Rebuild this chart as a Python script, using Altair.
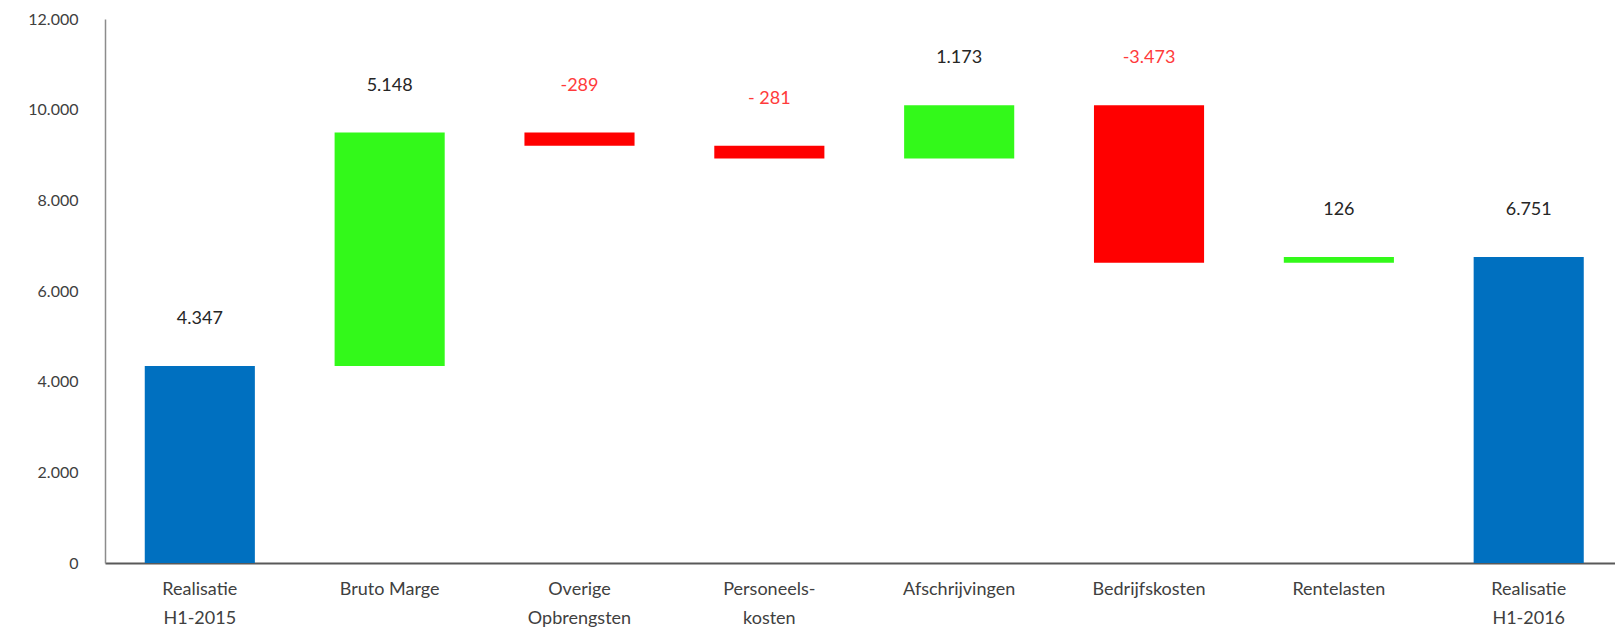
import altair as alt
import pandas as pd

categories = ["Realisatie|H1-2015", "Bruto Marge", "Overige|Opbrengsten", "Personeels-|kosten",
              "Afschrijvingen", "Bedrijfskosten", "Rentelasten", "Realisatie|H1-2016"]
amounts = [4347, 5148, -289, -281, 1173, -3473, 126, 6751]
kinds = ["total", "delta", "delta", "delta", "delta", "delta", "delta", "total"]
value_labels = ["4.347", "5.148", "-289", "- 281", "1.173", "-3.473", "126", "6.751"]
y_ticks = [0, 2000, 4000, 6000, 8000, 10000, 12000]

rows = []
running = 0
for cat, amt, kind, lab in zip(categories, amounts, kinds, value_labels):
    if kind == "total":
        start, end = 0, amt
        running = amt
        cls = "total"
    else:
        start, end = running, running + amt
        running = end
        cls = "up" if amt >= 0 else "down"
    rows.append({"cat": cat, "start": start, "end": end, "top": max(start, end),
                 "cls": cls, "label": lab})
df = pd.DataFrame(rows)

FONT = "Lato"

x = alt.X("cat:N", sort=None, title=None,
          scale=alt.Scale(paddingInner=0.42, paddingOuter=0.187, align=0.56),
          axis=alt.Axis(labelAngle=0, labelExpr="split(datum.label, '|')",
                        labelFont=FONT, labelFontSize=18, labelColor="#404040",
                        labelPadding=17, labelLineHeight=29, ticks=False,
                        domainColor="#595959", domainWidth=2, labelBaseline="top"))

bars = alt.Chart(df).mark_bar().encode(
    x=x,
    y=alt.Y("start:Q", title=None,
            scale=alt.Scale(domain=[0, 12000], nice=False),
            axis=alt.Axis(values=y_ticks, grid=False, ticks=False, labelPadding=27,
                          labelExpr="replace(format(datum.value, ',d'), ',', '.')",
                          labelFont=FONT, labelFontSize=16, labelColor="#404040",
                          domainColor="#8c8c8c", domainWidth=1.5)),
    y2="end:Q",
    color=alt.Color("cls:N", legend=None,
                    scale=alt.Scale(domain=["total", "up", "down"],
                                    range=["#0070C0", "#33F91A", "#FF0000"])),
)

text = alt.Chart(df).mark_text(font=FONT, fontSize=18, dy=-47, baseline="middle").encode(
    x=alt.X("cat:N", sort=None),
    y=alt.Y("top:Q"),
    text="label:N",
    color=alt.Color("cls:N", legend=None,
                    scale=alt.Scale(domain=["total", "up", "down"],
                                    range=["#262626", "#262626", "#FF3B3B"])),
)

chart = alt.layer(bars, text).resolve_scale(color="independent").properties(
    width=1510, height=544,
    padding={"left": 97, "top": 11, "right": 0, "bottom": 65},
    autosize=alt.AutoSizeParams(type="none"),
).configure_view(stroke=None)

chart.save("out.html", embed_options={"renderer": "svg", "actions": False})
